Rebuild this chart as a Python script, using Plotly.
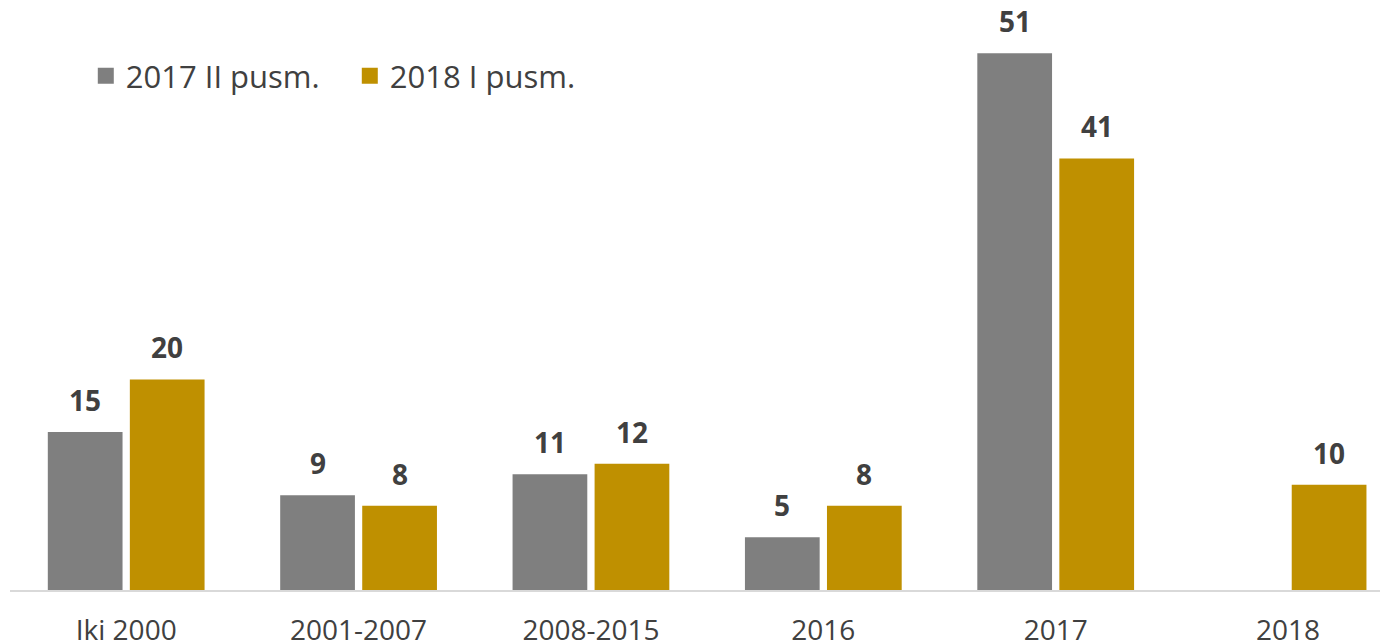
import plotly.graph_objects as go

categories = ["Iki 2000", "2001-2007", "2008-2015", "2016", "2017", "2018"]
series_names = ["2017 II pusm.", "2018 I pusm."]
values_2017_ii = [15, 9, 11, 5, 51, None]
values_2018_i = [20, 8, 12, 8, 41, 10]

colors = ["#7f7f7f", "#bf9000"]
text_color = "#404040"
font_family = "Open Sans, sans-serif"

fig = go.Figure()
for name, vals, col in zip(series_names, [values_2017_ii, values_2018_i], colors):
    fig.add_trace(go.Bar(
        x=categories, y=vals, name=name, showlegend=False,
        marker=dict(color=col, line=dict(width=0)),
    ))
    # legend-only entry with a bigger square swatch
    fig.add_trace(go.Scatter(
        x=[None], y=[None], name=name, mode="markers",
        marker=dict(symbol="square", size=19, color=col),
    ))

# value labels above each bar (offset by half a bar slot)
slot_shift = 41
for vals, sign in [(values_2017_ii, -1), (values_2018_i, 1)]:
    for i, v in enumerate(vals):
        if v is None:
            continue
        fig.add_annotation(
            x=i, y=v, text=f"<b>{v}</b>", showarrow=False,
            xshift=sign * slot_shift, yshift=32, yanchor="middle",
            font=dict(family=font_family, size=28, color=text_color),
        )

# page body has an 8px margin, so size/margins compensate for it
fig.update_layout(
    width=1380, height=635,
    barmode="group", bargap=0.294, bargroupgap=0.089,
    plot_bgcolor="white", paper_bgcolor="white",
    margin=dict(l=2, r=0, t=2, b=53, autoexpand=False),
    font=dict(family=font_family, size=28, color=text_color),
    showlegend=True,
    legend=dict(
        orientation="h", x=0.055, y=0.886, xanchor="left", yanchor="middle",
        font=dict(size=31, color=text_color),
        entrywidth=219, bgcolor="rgba(0,0,0,0)",
    ),
)
fig.update_xaxes(
    type="category", range=[-0.5, 5.43], showgrid=False, showline=True,
    linecolor="#d9d9d9", linewidth=2, ticks="", ticklabelstandoff=14,
    automargin=False, tickfont=dict(size=28, color=text_color),
)
fig.update_yaxes(
    range=[0, 55.1], showgrid=False, showticklabels=False,
    zeroline=False, showline=False, automargin=False,
)

fig.write_html("out.html")
